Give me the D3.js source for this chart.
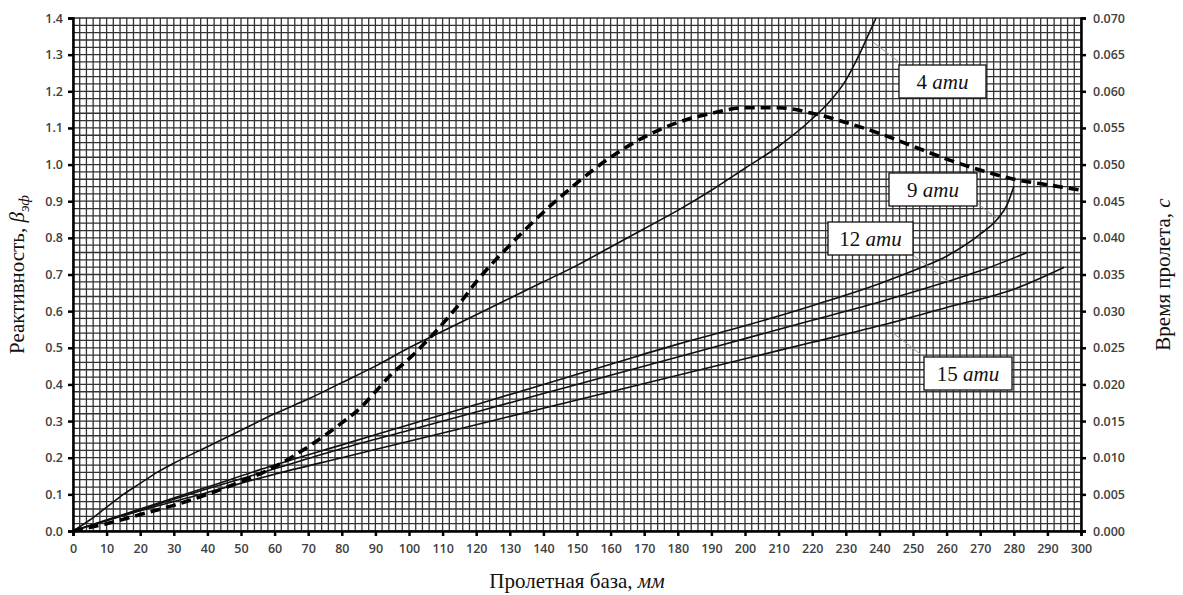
<!DOCTYPE html>
<html>
<head>
<meta charset="utf-8">
<script src="https://cdn.jsdelivr.net/npm/d3@7"></script>
<style>
  body { margin: 0; background: #fff; }
  svg text { font-family: "Open Sans", "DejaVu Sans", sans-serif; }
  .tick text { fill: #404040; font-size: 12.5px; font-weight: 600; }
  .axis_label { font-family: "Liberation Serif", "DejaVu Serif", serif !important; font-size: 21px; fill: #111; }
  .box_label { font-family: "Liberation Serif", "DejaVu Serif", serif !important; font-size: 21px; fill: #111; }
</style>
</head>
<body>
<svg id="chart"></svg>
<script>
// пролетная база, мм -> реактивность
let line_4 = [[0,0],[5,0.03],[10,0.065],[15,0.1],[20,0.13],[25,0.16],[30,0.185],[40,0.23],[50,0.275],[60,0.32],[70,0.36],[80,0.405],[90,0.45],[100,0.5],[110,0.545],[120,0.59],[130,0.635],[140,0.68],[150,0.725],[160,0.775],[170,0.825],[180,0.875],[190,0.93],[200,0.99],[210,1.05],[220,1.125],[225,1.17],[230,1.23],[234,1.3],[237,1.36],[239,1.4]];
let line_9 = [[0,0],[20,0.06],[40,0.12],[60,0.18],[80,0.235],[100,0.29],[120,0.345],[140,0.4],[160,0.455],[180,0.51],[200,0.56],[220,0.615],[240,0.675],[250,0.71],[260,0.75],[270,0.81],[275,0.85],[278,0.89],[280,0.94]];
let line_12 = [[0,0],[20,0.058],[40,0.115],[60,0.17],[80,0.225],[100,0.275],[120,0.325],[140,0.375],[160,0.425],[180,0.475],[200,0.525],[220,0.575],[240,0.625],[260,0.68],[270,0.71],[284,0.76]];
let line_15 = [[0,0],[20,0.055],[40,0.105],[60,0.155],[80,0.2],[100,0.245],[120,0.29],[140,0.335],[160,0.38],[180,0.425],[200,0.47],[220,0.515],[240,0.56],[260,0.61],[280,0.66],[295,0.72]];
// время пролета, с (правая ось)
let flight_time = [[0,0],[10,0.001],[20,0.00225],[30,0.0035],[40,0.005],[50,0.00675],[60,0.00875],[70,0.0115],[80,0.01475],[86,0.017],[90,0.019],[95,0.0215],[100,0.0235],[107,0.02675],[115,0.031],[120,0.034],[130,0.039],[140,0.0435],[150,0.0475],[160,0.051],[170,0.05375],[180,0.05575],[190,0.057],[200,0.05775],[210,0.05775],[220,0.057],[230,0.05575],[240,0.05425],[250,0.0525],[260,0.05075],[270,0.04925],[280,0.048],[290,0.04725],[300,0.0465]];

let x_ticks = d3.range(0, 301, 10);
let y_ticks = d3.range(0, 1.401, 0.1);
let y2_ticks = d3.range(0, 0.0701, 0.005);

let labels = [
    { num: '4', box: [899, 65, 87, 33], lead: [[873, 42], [899, 62]] },
    { num: '9', box: [889, 173, 88, 33], lead: [[977, 203], [996, 218]] },
    { num: '12', box: [828, 222, 85, 33], lead: [[913, 255], [950, 283]] },
    { num: '15', box: [924, 357, 88, 33], lead: [[893, 333], [924, 357]] }
];

let width = 1183, height = 595;
let padding = { left: 73, right: 102, top: 18, bottom: 64 };

let svg = d3.select('#chart').attr('width', width).attr('height', height);

let x = d3.scaleLinear().domain([0, 300]).range([padding.left, width - padding.right]);
let y = d3.scaleLinear().domain([0, 1.4]).range([height - padding.bottom, padding.top]);
let y2 = d3.scaleLinear().domain([0, 0.07]).range([height - padding.bottom, padding.top]);

// сетка (шаг 2 мм и 0.02)
let grid = svg.append('g').attr('stroke', '#333').attr('stroke-width', 1.3);
grid.selectAll('line.v').data(d3.range(0, 301, 2)).enter().append('line')
    .attr('x1', d => x(d)).attr('x2', d => x(d))
    .attr('y1', y(0)).attr('y2', y(1.4));
grid.selectAll('line.h').data(d3.range(0, 71, 1).map(d => d * 0.02)).enter().append('line')
    .attr('x1', x(0)).attr('x2', x(300))
    .attr('y1', d => y(d)).attr('y2', d => y(d));

// оси
let axis_x = d3.axisBottom(x).tickValues(x_ticks).tickSize(5).tickFormat(d => d);
let axis_y = d3.axisLeft(y).tickValues(y_ticks).tickSize(5).tickFormat(d3.format('.1f'));
let axis_y2 = d3.axisRight(y2).tickValues(y2_ticks).tickSize(5).tickFormat(d3.format('.3f'));

function style_axis(g) {
    g.select('.domain').attr('stroke', '#000').attr('stroke-width', 2.5);
    g.selectAll('.tick line').attr('stroke', '#000').attr('stroke-width', 2.5);
}
svg.append('g').attr('transform', `translate(0, ${y(0)})`).call(axis_x).call(style_axis)
    .selectAll('.tick text').attr('dy', '1.1em');
svg.append('g').attr('transform', `translate(${x(0)}, 0)`).call(axis_y).call(style_axis)
    .selectAll('.tick text').attr('x', -10);
svg.append('g').attr('transform', `translate(${x(300)}, 0)`).call(axis_y2).call(style_axis)
    .selectAll('.tick text').attr('x', 12);

// кривые
let line = d3.line().curve(d3.curveMonotoneX).x(d => x(d[0])).y(d => y(d[1]));
let line2 = d3.line().curve(d3.curveMonotoneX).x(d => x(d[0])).y(d => y2(d[1]));
[line_4, line_9, line_12, line_15].forEach(data => {
    svg.append('path').datum(data).attr('d', line)
        .attr('fill', 'none').attr('stroke', '#111').attr('stroke-width', 1.6);
});
svg.append('path').datum(flight_time).attr('d', line2)
    .attr('fill', 'none').attr('stroke', '#000').attr('stroke-width', 3.6)
    .attr('stroke-dasharray', '10,6');

// подписи давления
labels.forEach(l => {
    svg.append('line')
        .attr('x1', l.lead[0][0]).attr('y1', l.lead[0][1])
        .attr('x2', l.lead[1][0]).attr('y2', l.lead[1][1])
        .attr('stroke', '#999').attr('stroke-width', 1);
    svg.append('rect')
        .attr('x', l.box[0]).attr('y', l.box[1]).attr('width', l.box[2]).attr('height', l.box[3])
        .attr('fill', '#fff').attr('stroke', '#111').attr('stroke-width', 1.3);
    let t = svg.append('text').attr('class', 'box_label')
        .attr('x', l.box[0] + l.box[2] / 2).attr('y', l.box[1] + l.box[3] / 2 + 7)
        .attr('text-anchor', 'middle');
    t.append('tspan').text(l.num + ' ');
    t.append('tspan').attr('font-style', 'italic').text('ати');
});

// подписи осей
let xl = svg.append('text').attr('class', 'axis_label')
    .attr('x', (x(0) + x(300)) / 2).attr('y', 588).attr('text-anchor', 'middle');
xl.append('tspan').text('Пролетная база, ');
xl.append('tspan').attr('font-style', 'italic').text('мм');

let yl = svg.append('text').attr('class', 'axis_label')
    .attr('transform', `translate(24, ${y(0.7)}) rotate(-90)`).attr('text-anchor', 'middle');
yl.append('tspan').text('Реактивность, ');
yl.append('tspan').attr('font-style', 'italic').text('β');
yl.append('tspan').attr('font-style', 'italic').attr('font-size', '15px').attr('dy', 5).text('эф');

let yr = svg.append('text').attr('class', 'axis_label')
    .attr('transform', `translate(1170, ${y(0.7)}) rotate(-90)`).attr('text-anchor', 'middle');
yr.append('tspan').text('Время пролета, ');
yr.append('tspan').attr('font-style', 'italic').text('с');
</script>
</body>
</html>
